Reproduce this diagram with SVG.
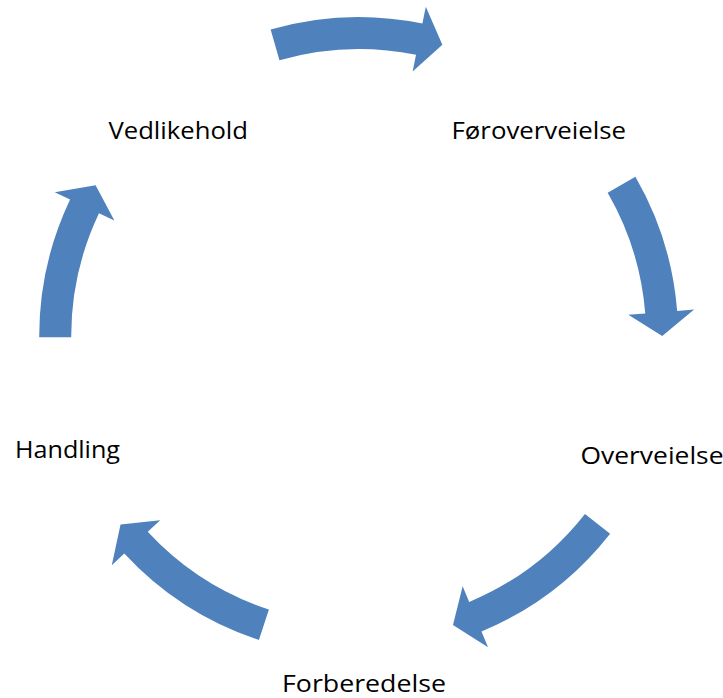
<svg xmlns="http://www.w3.org/2000/svg" width="723" height="698" viewBox="0 0 723 698">
  <style>
    .arrow { fill: #4F81BD; stroke: none; }
    .label { font-family: "Open Sans", "Liberation Sans", sans-serif; font-size: 23px; fill: #000000; }
  </style>
  <rect width="723" height="698" fill="#FFFFFF"/>
  <g id="connectors">
    <path class="arrow" d="M270.63,29.38 A319.5,319.5 0 0 1 422.40,23.42 L425.79,6.76 L442.36,44.76 L412.63,71.43 L416.02,54.77 A287.5,287.5 0 0 0 279.45,60.14 Z"/>
    <path class="arrow" d="M635.40,176.75 A319.5,319.5 0 0 1 677.17,310.88 L694.12,309.51 L662.20,335.97 L628.33,314.81 L645.27,313.44 A287.5,287.5 0 0 0 607.68,192.75 Z"/>
    <path class="arrow" d="M610.13,533.63 A319.5,319.5 0 0 1 481.48,631.47 L488.02,647.16 L452.99,624.98 L462.65,586.23 L469.19,601.92 A287.5,287.5 0 0 0 584.95,513.89 Z"/>
    <path class="arrow" d="M258.91,640.02 A319.5,319.5 0 0 1 124.27,553.58 L111.80,565.13 L120.52,524.60 L160.23,520.29 L147.75,531.84 A287.5,287.5 0 0 0 268.90,609.62 Z"/>
    <path class="arrow" d="M39.20,337.34 A319.5,319.5 0 0 1 70.08,199.45 L54.73,192.16 L95.60,185.21 L114.35,220.47 L98.99,213.18 A287.5,287.5 0 0 0 71.20,337.25 Z"/>
  </g>
  <g id="node-foroverveielse">
    <text class="label" x="451.5" y="139" textLength="174.5" lengthAdjust="spacingAndGlyphs">Føroverveielse</text>
  </g>
  <g id="node-overveielse">
    <text class="label" x="580.5" y="463.5" textLength="143" lengthAdjust="spacingAndGlyphs">Overveielse</text>
  </g>
  <g id="node-forberedelse">
    <text class="label" x="282" y="691.5" textLength="164" lengthAdjust="spacingAndGlyphs">Forberedelse</text>
  </g>
  <g id="node-handling">
    <text class="label" x="15" y="458" textLength="105" lengthAdjust="spacingAndGlyphs">Handling</text>
  </g>
  <g id="node-vedlikehold">
    <text class="label" x="108.5" y="139" textLength="139.5" lengthAdjust="spacingAndGlyphs">Vedlikehold</text>
  </g>
</svg>
